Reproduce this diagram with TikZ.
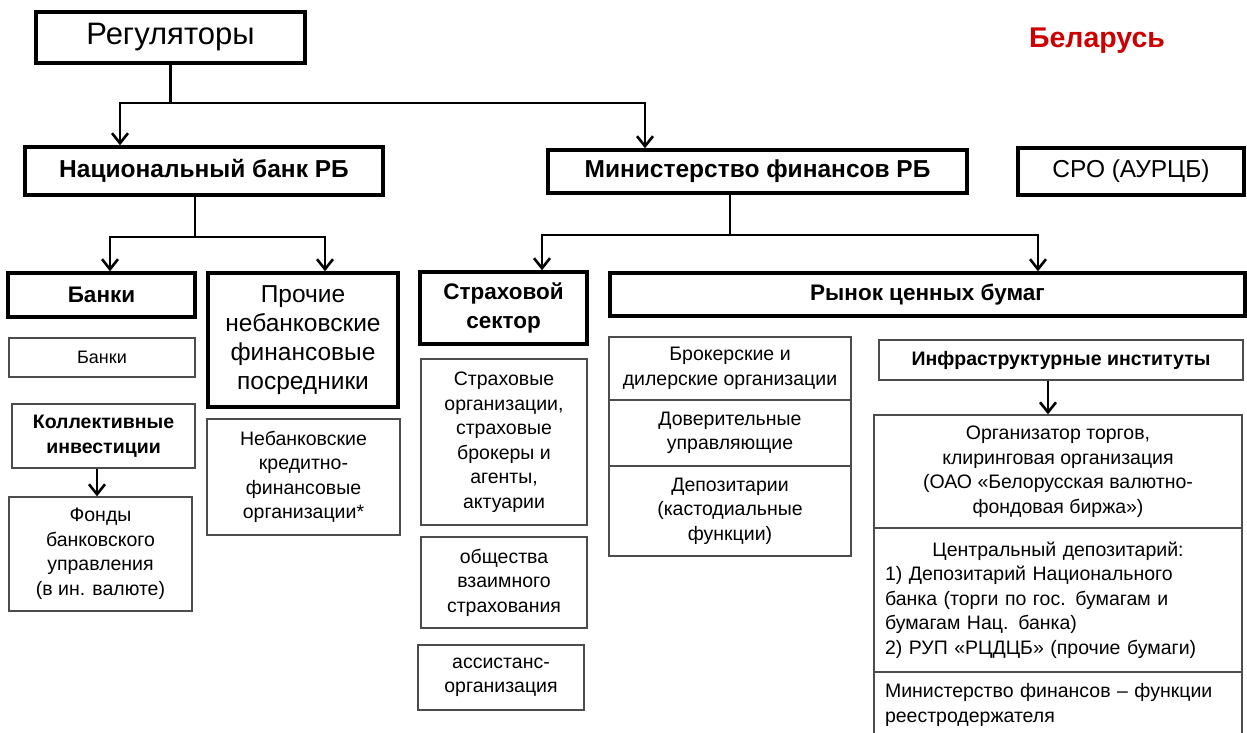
\documentclass[tikz,border=0pt]{standalone}
\usepackage{fontspec}
\setmainfont{Liberation Sans}
\usetikzlibrary{arrows.meta}

\newcommand{\fs}[2]{\fontsize{#1}{#2}\selectfont}

\begin{document}
\begin{tikzpicture}[x=1pt, y=-1pt,
        thickbox/.style={draw, line width=3.5pt, align=center, inner sep=0pt,
            font=\fs{24.5}{29}\bfseries},
        thinbox/.style={draw=black!70, line width=1.3pt, align=center,
            inner sep=0pt, font=\fs{19.5}{24.5}},
        conn/.style={line width=2.6pt},
        arr/.style={conn, -{Straight Barb[length=10pt, width=16pt]}}]
            \fill [white] (0,0) rectangle (1247,733);
            \useasboundingbox (0,0) rectangle (1247,733);
            \node [thickbox, minimum width=269pt, minimum height=51pt,
                font=\fs{31}{34}] (reg) at (170.5,37.5) {Регуляторы};
            \node [font=\fs{28.5}{30}\bfseries, text=red!80!black] (country) at
                (1097,41) {Беларусь};
            \node [thickbox, minimum width=358pt, minimum height=48pt] (nat)
                at (204,171) {Национальный банк РБ};
            \node [thickbox, minimum width=419pt, minimum height=43pt] (min)
                at (757.5,171.5) {Министерство финансов РБ};
            \node [thickbox, minimum width=226pt, minimum height=47pt,
                font=\fs{24.5}{29}] (sro) at (1131,171.5) {СРО (АУРЦБ)};
            \node [thickbox, minimum width=187pt, minimum height=44pt,
                font=\fs{22.5}{26}\bfseries] (banks) at (101.5,295) {Банки};
            \node [thickbox, minimum width=190pt, minimum height=134pt,
                font=\fs{24.5}{29}] (other) at (303,340)
                {Прочие\\небанковские\\финансовые\\посредники};
            \node [thickbox, minimum width=167pt, minimum height=72pt,
                font=\fs{22.5}{29}\bfseries] (ins) at (503.5,308)
                {Страховой\\сектор};
            \node [thickbox, minimum width=635pt, minimum height=43pt,
                font=\fs{22.5}{26}\bfseries] (sec) at (927.5,294.5)
                {Рынок ценных бумаг};
            \node [thinbox, minimum width=186pt, minimum height=39pt,
                font=\fs{18}{22}] (bankstwo) at (102,357.5) {Банки};
            \node [thinbox, minimum width=183pt, minimum height=64pt,
                font=\fs{19.5}{24.5}\bfseries] (collect) at (103.5,436)
                {Коллективные\\инвестиции};
            \node [thinbox, minimum width=183pt, minimum height=114pt] (funds)
                at (100.5,554) {Фонды\\банковского\\управления\\(в ин. валюте)};
            \node [thinbox, minimum width=193pt, minimum height=116pt] (nbkfo)
                at (303.5,477)
                {Небанковские\\кредитно-\\финансовые\\организации*};
            \node [thinbox, minimum width=166pt, minimum height=166pt]
                (insorg) at (504,442) {Страховые\\организации,\\страховые\\брокеры
                и\\агенты,\\актуарии};
            \node [thinbox, minimum width=166pt, minimum height=91pt] (mutual)
                at (504,582.5) {общества\\взаимного\\страхования};
            \node [thinbox, minimum width=166pt, minimum height=65pt] (assist)
                at (501,677.5) {ассистанс-\\организация};
            \node [thinbox, minimum width=242pt, minimum height=63pt] (broker)
                at (730,368.5) {Брокерские и\\дилерские организации};
            \node [thinbox, minimum width=242pt, minimum height=66pt] (trust)
                at (730,433) {Доверительные\\управляющие};
            \node [thinbox, minimum width=242pt, minimum height=90pt] (depo)
                at (730,511) {Депозитарии\\(кастодиальные\\функции)};
            \node [thinbox, minimum width=364pt, minimum height=40pt,
                font=\fs{19.5}{24.5}\bfseries] (infra) at (1061,360)
                {Инфраструктурные институты};
            \node [thinbox, minimum width=368pt, minimum height=113pt] (org)
                at (1058,471.5) {Организатор торгов,\\клиринговая
                организация\\(ОАО «Белорусская валютно-\\фондовая биржа»)};
            \node [thinbox, minimum width=368pt, minimum height=144pt,
                text width=346pt, align=left] (cdep) at (1058,600)
                {\makebox[\hsize][c]{Центральный депозитарий:}\\1) Депозитарий
                Национального\\банка (торги по гос. бумагам и\\бумагам Нац.
                банка)\\2) РУП «РЦДЦБ» (прочие бумаги)};
            \node [thinbox, minimum width=368pt, minimum height=66pt,
                text width=346pt, align=left] (minf) at (1058,705)
                {Министерство финансов – функции\\реестродержателя};
            \coordinate (regbus) at (reg.south |- 0,103);
            \draw [conn] (reg.south) -- (regbus);
            \draw [arr] (regbus) -| (nat.north -| 120,0);
            \draw [arr] (regbus) -| (min.north -| 645,0);
            \coordinate (natbus) at (195,237);
            \draw [conn] (nat.south -| natbus) -- (natbus);
            \draw [arr] (natbus) -| (banks.north -| 110,0);
            \draw [arr] (natbus) -| (other.north -| 325,0);
            \coordinate (minbus) at (730,235);
            \draw [conn] (min.south -| minbus) -- (minbus);
            \draw [arr] (minbus) -| (ins.north -| 542,0);
            \draw [arr] (minbus) -| (sec.north -| 1038,0);
            \draw [arr] (collect.south -| 97,0) -- (funds.north -| 97,0);
            \draw [arr] (infra.south -| 1048,0) -- (org.north -| 1048,0);
        \end{tikzpicture}
\end{document}
